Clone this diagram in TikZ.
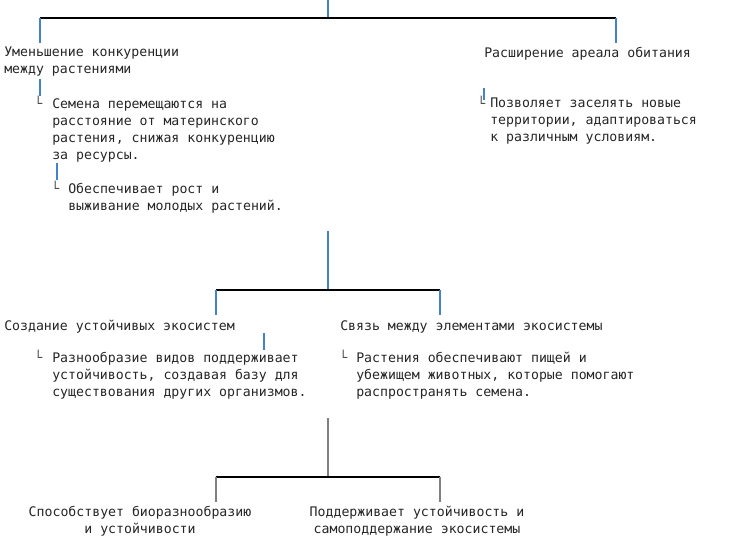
\documentclass[tikz,border=0pt]{standalone}
\usepackage{fontspec}
\setmainfont{DejaVu Sans Mono}
\definecolor{stemc}{RGB}{70,130,200}
\begin{document}
\begin{tikzpicture}[x=0.75pt,y=-0.75pt,
  txt/.style={anchor=north west,inner sep=0pt,align=left,font=\fontsize{9.9pt}{12.75pt}\selectfont,text=black!85},
  ctxt/.style={txt,anchor=north,align=center},
  lmark/.style={txt,text=black!70},
  tree/.style={draw=black,line width=0.8pt},
  stem/.style={draw=stemc,line width=1pt},
  gstem/.style={draw=gray,line width=0.8pt}]
\useasboundingbox (0,0) rectangle (737,558);
% section 1
\coordinate (t0) at (328,0);
\coordinate (t1) at (328,18);
\coordinate (h1l) at (40,18);
\coordinate (h1r) at (616,18);
\node[txt] (a) at (4,47) {Уменьшение конкуренции\\между растениями};
\node[txt] (b) at (484,47) {Расширение ареала обитания};
\draw[stem] (t0) -- (t1);
\draw[tree] (h1l) -- (h1r);
\draw[stem] (h1l) -- (40,43);
\draw[stem] (h1r) -- (616,43);
\coordinate (a1) at (40,79);
\draw[stem] (a1) -- (40,96);
\node[lmark] (am) at (34,96) {└};
\node[txt] (a2) at (52,98) {Семена перемещаются на\\расстояние от материнского\\растения, снижая конкуренцию\\за ресурсы.};
\coordinate (a3) at (57,163);
\draw[stem] (a3) -- (57,180);
\node[lmark] (a3m) at (51,181) {└};
\node[txt] (a4) at (68,183) {Обеспечивает рост и\\выживание молодых растений.};
\coordinate (b1) at (484,88);
\draw[stem] (b1) -- (484,100);
\node[lmark] (bm) at (477,96) {└};
\node[txt] (b2) at (490,98) {Позволяет заселять новые\\территории, адаптироваться\\к различным условиям.};
% section 2
\coordinate (s0) at (328,231);
\coordinate (s1) at (328,290);
\coordinate (h2l) at (216,290);
\coordinate (h2r) at (440,290);
\draw[stem] (s0) -- (s1);
\draw[tree] (h2l) -- (h2r);
\draw[stem] (h2l) -- (216,315);
\draw[stem] (h2r) -- (440,315);
\node[txt] (c) at (4,320) {Создание устойчивых экосистем};
\node[txt] (d) at (340,320) {Связь между элементами экосистемы};
\coordinate (c1) at (264,333);
\draw[stem] (c1) -- (264,350);
\node[lmark] (cm) at (34,350) {└};
\node[txt] (c2) at (52,352) {Разнообразие видов поддерживает\\устойчивость, создавая базу для\\существования других организмов.};
\node[lmark] (dm) at (339,350) {└};
\node[txt] (d2) at (356,352) {Растения обеспечивают пищей и\\убежищем животных, которые помогают\\распространять семена.};
% section 3
\coordinate (u0) at (328,418);
\coordinate (u1) at (328,477);
\coordinate (h3l) at (216,477);
\coordinate (h3r) at (440,477);
\draw[gstem] (u0) -- (u1);
\draw[tree] (h3l) -- (h3r);
\draw[gstem] (h3l) -- (216,502);
\draw[gstem] (h3r) -- (440,502);
\node[ctxt] (e) at (140,506) {Способствует биоразнообразию\\и устойчивости};
\node[ctxt] (f) at (417,506) {Поддерживает устойчивость и\\самоподдержание экосистемы};
\end{tikzpicture}
\end{document}
